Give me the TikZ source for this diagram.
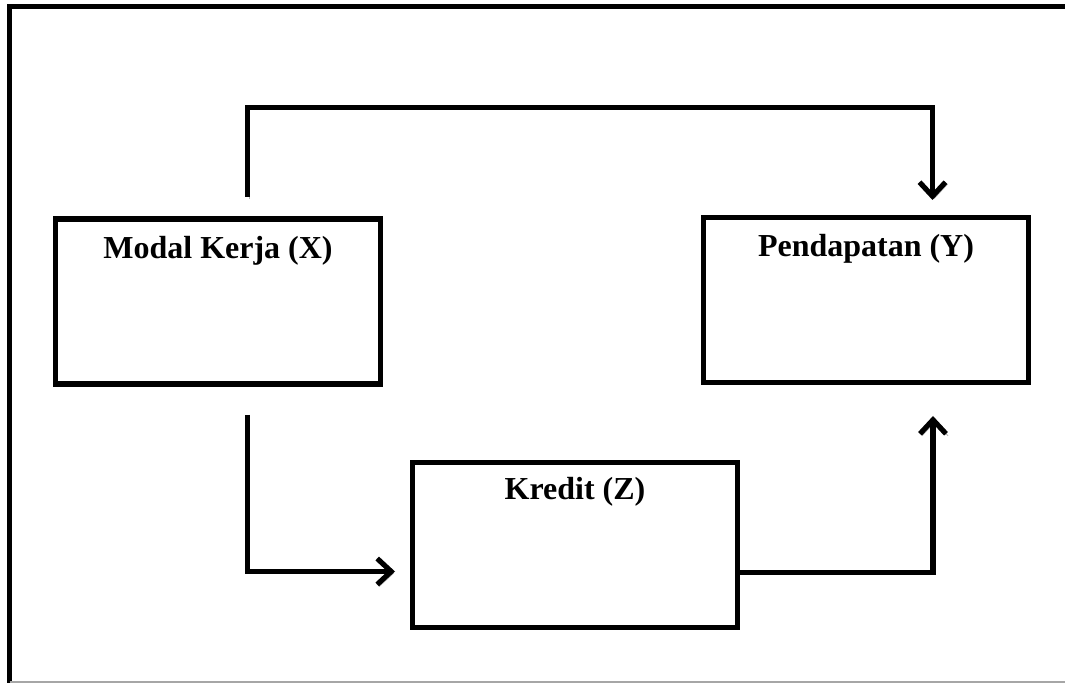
\documentclass[tikz,border=0pt]{standalone}
\usepackage{fontspec}
\setmainfont{Liberation Serif}
\usepackage{tikz}
\usetikzlibrary{arrows.meta}
\usetikzlibrary{positioning}

\tikzset{
  box/.style={draw, line width=2.6pt, rectangle, minimum width=162.5pt, minimum height=82.5pt, inner sep=0pt},
  lbl/.style={font=\fontsize{16}{19}\selectfont\bfseries, inner sep=0pt},
  conn/.style={line width=2.6pt, -{Straight Barb[length=7pt, width=13pt]},
    preaction={draw=gray!60, transform canvas={shift={(1pt,-1pt)}}}}
}

\begin{document}
\begin{tikzpicture}[x=0.5pt, y=-0.5pt]
        \useasboundingbox (0, 0) rectangle (1065, 683);
        \draw[line width=2.5pt] (9.5, 683) -- (9.5, 6.5) -- (1065, 6.5);
        \draw[gray!70, line width=0.6pt] (9.5, 682) -- (1065, 682);
        \node[box] (modal) at (218, 301.5) {};
        \node[box] (pendapatan) at (866, 300) {};
        \node[box] (kredit) at (575, 545) {};
        \node[lbl] (modaltxt) at ([yshift=-17pt]modal.north) {Modal Kerja (X)};
        \node[lbl] (pendapatantxt) at ([yshift=-17pt]pendapatan.north) {Pendapatan (Y)};
        \node[lbl] (kredittxt) at ([yshift=-16pt]kredit.north) {Kredit (Z)};
        \coordinate (xtop) at (247.5, 197);
        \coordinate (yin1) at (932.5, 200);
        \coordinate (xbot) at (247.5, 415);
        \coordinate (zin) at (395, 571.5);
        \coordinate (zout) at (kredit.east |- 0, 572.5);
        \coordinate (yin2) at (933, 416);
        \draw[conn] (xtop) -- (247.5, 107.5) -| (yin1);
        \draw[conn] (xbot) |- (zin);
        \draw[conn] (zout) -| (yin2);
      \end{tikzpicture}
\end{document}
